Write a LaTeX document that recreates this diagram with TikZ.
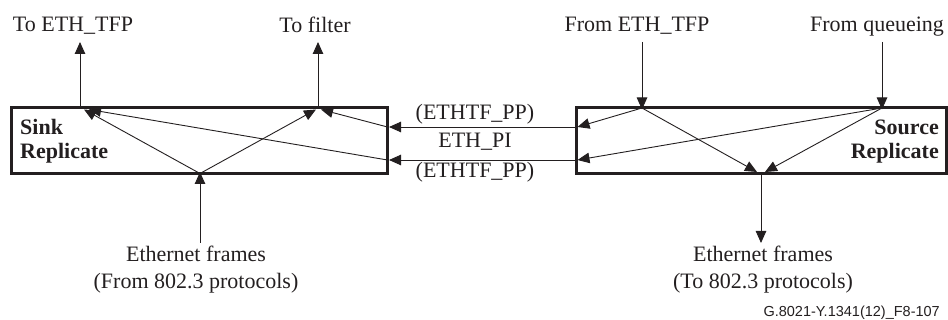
\documentclass[tikz,border=0pt]{standalone}
\usepackage{fontspec}
\setmainfont{Liberation Serif}
\newfontfamily\tagfont{Liberation Sans}
\usetikzlibrary{arrows.meta,positioning,calc}
\definecolor{ink}{RGB}{35,31,32}
\tikzset{
  repblk/.style={draw=ink, rectangle, line width=3pt, minimum height=65.5pt, inner sep=0pt, outer sep=0pt},
  lbl/.style={font=\fontsize{22}{27}\selectfont, text=ink, align=center, inner sep=0pt},
  blbl/.style={font=\fontsize{22}{24}\selectfont\bfseries, text=ink, inner sep=0pt},
  arr/.style={-{Triangle[length=12pt, width=10.5pt]}, line width=0.9pt, draw=ink},
}
\begin{document}
\begin{tikzpicture}[x=1pt, y=-1pt]
\useasboundingbox (0,0) rectangle (948,320);

% replicate blocks
\node[repblk, minimum width=376.5pt] (sink) at (199.25,140.75) {};
\node[repblk, minimum width=370pt] (source) at (761,140.75) {};
\node[blbl, align=left, anchor=base west] (sinklbl) at (20,159) {Sink\\Replicate};
\node[blbl, align=right, anchor=base east] (srclbl) at (939,159) {Source\\Replicate};

% outside labels
\node[lbl, anchor=base] (totfp) at (73,32) {To ETH\_TFP};
\node[lbl, anchor=base] (tofilter) at (315,33) {To filter};
\node[lbl, anchor=base] (fromtfp) at (637,32) {From ETH\_TFP};
\node[lbl, anchor=base] (fromqueue) at (877,32) {From queueing};
\node[lbl, anchor=base] (pp1) at (475,120) {(ETHTF\_PP)};
\node[lbl, anchor=base] (pi) at (475,148) {ETH\_PI};
\node[lbl, anchor=base] (pp2) at (475,178) {(ETHTF\_PP)};
\node[lbl, anchor=base] (ethin) at (196,289) {Ethernet frames\\(From 802.3 protocols)};
\node[lbl, anchor=base] (ethout) at (763,289) {Ethernet frames\\(To 802.3 protocols)};
\node[font=\tagfont\fontsize{14.5}{16}\selectfont, text=ink, inner sep=0pt, anchor=base east] (tag) at (940,317) {G.8021-Y.1341(12)\_F8-107};

% points on the sink block
\coordinate (s-tfp) at (80,108);
\coordinate (s-flt) at (318,108);
\coordinate (s-in) at (200,173.5);
\coordinate (s-pp1) at (387.5,127);
\coordinate (s-pp2) at (387.5,160);
\coordinate (s-tfp-a) at (84,109.5);
\coordinate (s-tfp-b) at (89,109.5);
\coordinate (s-flt-a) at (316,109.5);
\coordinate (s-flt-b) at (321,109.5);
\coordinate (s-tfp-out) at (80,42);
\coordinate (s-flt-out) at (318,42);
\coordinate (s-in-src) at (200,243);

% points on the source block
\coordinate (r-tfp) at (642,108);
\coordinate (r-que) at (882,108);
\coordinate (r-out) at (761,173.5);
\coordinate (r-pp1) at (576,127);
\coordinate (r-pp2) at (576,160);
\coordinate (r-pp1-a) at (577.5,127);
\coordinate (r-pp2-a) at (577.5,160);
\coordinate (r-out-a) at (757,172);
\coordinate (r-out-b) at (765,172);
\coordinate (r-tfp-in) at (642,42);
\coordinate (r-que-in) at (882,42);
\coordinate (r-out-dst) at (761,243);

% sink connections
\draw[arr] (s-tfp) -- (s-tfp-out);
\draw[arr] (s-flt) -- (s-flt-out);
\draw[arr] (s-in-src) -- ([yshift=1.5pt]s-in);
\draw[arr] (s-in) -- (s-tfp-a);
\draw[arr] (s-in) -- (s-flt-a);
\draw[arr] (s-pp1) -- (s-flt-b);
\draw[arr] (s-pp2) -- (s-tfp-b);

% between the blocks
\draw[arr] (r-pp1) -- ([xshift=1.5pt]s-pp1);
\draw[arr] (r-pp2) -- ([xshift=1.5pt]s-pp2);

% source connections
\draw[arr] (r-tfp-in) -- ([yshift=-1.5pt]r-tfp);
\draw[arr] (r-que-in) -- ([yshift=-1.5pt]r-que);
\draw[arr] ([yshift=1.5pt]r-out) -- (r-out-dst);
\draw[arr] (r-tfp) -- (r-pp1-a);
\draw[arr] (r-tfp) -- (r-out-a);
\draw[arr] (r-que) -- (r-pp2-a);
\draw[arr] (r-que) -- (r-out-b);

\end{tikzpicture}
\end{document}
